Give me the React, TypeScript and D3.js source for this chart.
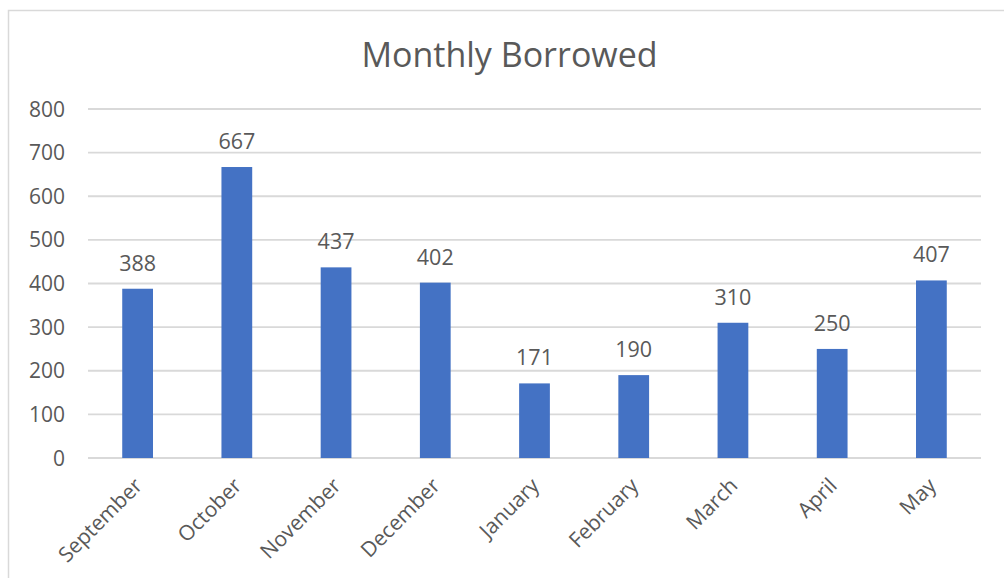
import React from "react";
import * as d3 from "d3";

const months = ["September", "October", "November", "December", "January", "February", "March", "April", "May"];
const borrowed = [388, 667, 437, 402, 171, 190, 310, 250, 407];
const yTicks = [0, 100, 200, 300, 400, 500, 600, 700, 800];
const title = "Monthly Borrowed";

export default function App() {
  const W = 1004, H = 578;
  const left = 88, right = 981, top = 109, bottom = 458;
  const x = d3.scaleBand<string>().domain(months).range([left, right]).paddingInner(0.69).paddingOuter(0.345);
  const y = d3.scaleLinear().domain([0, 800]).range([bottom, top]);
  const font = "'Open Sans', 'Noto Sans', sans-serif";
  const textColor = "#595959";
  return (
    <svg width={W} height={H} style={{ position: "absolute", left: 0, top: 0, background: "#fff" }} fontFamily={font}>
      <rect x={8.5} y={10.5} width={1010} height={600} fill="#fff" stroke="#d9d9d9" strokeWidth={1.5} />
      <text x={509.5} y={67} textAnchor="middle" fontSize={34} fill={textColor}>{title}</text>
      {yTicks.map((t) => (
        <g key={t}>
          <line x1={left} x2={right} y1={y(t)} y2={y(t)} stroke="#d9d9d9" strokeWidth={1.8} />
          <text x={65} y={y(t)} dy="0.36em" textAnchor="end" fontSize={21} fill={textColor}>{t}</text>
        </g>
      ))}
      {months.map((m, i) => (
        <g key={m}>
          <rect x={x(m)!} y={y(borrowed[i])} width={x.bandwidth()} height={bottom - y(borrowed[i])} fill="#4472C4" />
          <text x={x(m)! + x.bandwidth() / 2} y={y(borrowed[i]) - 18} textAnchor="middle" fontSize={21.5} fill={textColor}>{borrowed[i]}</text>
          <text
            transform={`translate(${x(m)! + x.bandwidth() / 2 + 6},${bottom + 29}) rotate(-45)`}
            textAnchor="end"
            fontSize={21}
            fill={textColor}
          >{m}</text>
        </g>
      ))}
    </svg>
  );
}
